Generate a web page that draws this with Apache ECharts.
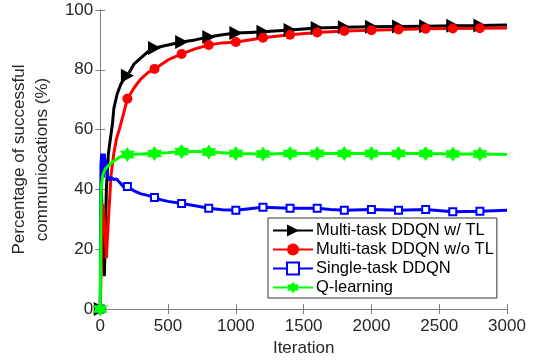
<!DOCTYPE html>
<html><head><meta charset="utf-8">
<script src="https://cdn.jsdelivr.net/npm/echarts@6/dist/echarts.min.js"></script>
<style>html,body{margin:0;padding:0;background:#fff}#c{width:535px;height:363px}</style>
</head><body><div id="c"></div>
<script>
var seriesNames = ['Multi-task DDQN w/ TL','Multi-task DDQN w/o TL','Single-task DDQN','Q-learning'];
var xTicks = [0,500,1000,1500,2000,2500,3000];
var yTicks = [0,20,40,60,80,100];
var markerIters = [0,200,400,600,800,1000,1200,1400,1600,1800,2000,2200,2400,2600,2800];

var wtlIter = [0,8,15,30,45,60,75,90,100,125,150,175,200,250,300,350,400,450,500,600,700,800,900,1000,1100,1200,1400,1600,1800,2000,2200,2400,2600,2800,3000];
var wtlVal  = [0,40,30,11,40,52,57,62,67,72,75,77,78,82,84,86,87.3,87.8,88.3,89.3,90,91,91.7,92.3,92.5,92.7,93.3,94,94.2,94.4,94.5,94.6,94.7,94.8,95];

var wotlIter = [0,10,20,30,45,60,80,100,120,140,170,200,250,300,350,400,500,600,700,800,900,1000,1100,1200,1400,1600,1800,2000,2200,2400,2600,2800,3000];
var wotlVal  = [0,20,35,30,17,30,45,52,57,60,65,70.3,74,77,79,80.3,83.3,85.3,87,88.3,89,89.3,90,90.7,91.7,92.5,93,93.2,93.5,93.7,93.8,93.9,94];

var stIter = [0,5,10,15,20,25,30,35,40,50,60,70,80,100,120,140,160,180,200,250,300,350,400,450,500,600,700,800,900,1000,1100,1200,1400,1600,1700,1800,2000,2200,2400,2600,2800,3000];
var stVal  = [0,48,52,45,50,44,52,46,50,45,44,43,44,43.3,43.5,42.5,41.5,40.5,41,39.5,38.5,38,37.3,36.5,36,35.3,34.5,33.7,33.2,33,33.5,34,33.7,33.7,33.3,33,33.3,33,33.3,32.5,32.7,33];

var qlIter = [0,3,6,10,20,40,60,100,150,200,300,400,500,600,700,800,1000,1200,1400,1600,1800,2000,2200,2400,2600,2800,3000];
var qlVal  = [0,20,38,42,45,47,48,49.5,51,51.7,51.8,52,52.3,52.7,52.7,52.5,52,51.8,52,52,52,52,52,52,51.8,51.8,51.7];

function build(iters, vals){
  return iters.map(function(x,i){
    if (markerIters.indexOf(x) >= 0) return [x, vals[i]];
    return {value:[x, vals[i]], symbol:'none'};
  });
}

var triRight = 'path://M0,0 L10,5 L0,10 Z';
var hexagram = 'path://M5,0 L6.443,2.5 L9.33,2.5 L7.887,5 L9.33,7.5 L6.443,7.5 L5,10 L3.557,7.5 L0.67,7.5 L2.113,5 L0.67,2.5 L3.557,2.5 Z';

var axisGray = '#808080';
var txt = '#262626';
var font = 'Liberation Sans, Arial, sans-serif';
function plain(v){ return String(v); }

var chart = echarts.init(document.getElementById('c'), null, {renderer:'canvas'});
chart.setOption({
  animation:false,
  backgroundColor:'#fff',
  grid:{left:98,right:28,top:10,bottom:54,show:false},
  legend:{
    orient:'vertical', left:268, top:218,
    backgroundColor:'#fff', borderColor:'#333', borderWidth:1,
    padding:[3,3,1,4], itemWidth:40, itemHeight:15, itemGap:0,
    textStyle:{fontFamily:font, fontSize:16.5, color:'#000', lineHeight:19, padding:[0,0,0,-2]},
    data:seriesNames
  },
  xAxis:[{
    type:'value', min:0, max:3000, interval:500,
    name:'Iteration', nameLocation:'middle', nameGap:31,
    nameTextStyle:{fontFamily:font, fontSize:17, color:txt},
    axisLine:{lineStyle:{color:axisGray,width:1}},
    axisTick:{inside:true,length:5,lineStyle:{color:axisGray}},
    axisLabel:{fontFamily:font, fontSize:17, color:txt, margin:9, formatter:plain},
    splitLine:{show:false}
  },{
    type:'value', min:0, max:3000, interval:500, position:'top',
    axisLine:{lineStyle:{color:axisGray,width:1}},
    axisTick:{inside:true,length:5,lineStyle:{color:axisGray}},
    axisLabel:{show:false}, splitLine:{show:false}
  }],
  yAxis:[{
    type:'value', min:0, max:100, interval:20,
    name:'Percentage of successful\ncommuniocations (%)', nameLocation:'middle', nameGap:36, nameRotate:90,
    nameTextStyle:{fontFamily:font, fontSize:17, color:txt, lineHeight:23},
    axisLine:{show:true,lineStyle:{color:axisGray,width:1}},
    axisTick:{show:true,inside:true,length:5,lineStyle:{color:axisGray}},
    axisLabel:{fontFamily:font, fontSize:17, color:txt, margin:7, formatter:plain},
    splitLine:{show:false}
  },{
    type:'value', min:0, max:100, interval:20, position:'right',
    axisLine:{show:true,lineStyle:{color:axisGray,width:1}},
    axisTick:{show:true,inside:true,length:5,lineStyle:{color:axisGray}},
    axisLabel:{show:false}, splitLine:{show:false}
  }],
  series:[{
    name:seriesNames[0], type:'line', data:build(wtlIter,wtlVal),
    symbol:triRight, symbolSize:[13,14], symbolKeepAspect:false, showAllSymbol:true,
    lineStyle:{color:'#000',width:3}, itemStyle:{color:'#000'}
  },{
    name:seriesNames[1], type:'line', data:build(wotlIter,wotlVal),
    symbol:'circle', symbolSize:10, showAllSymbol:true,
    lineStyle:{color:'#ff0000',width:3}, itemStyle:{color:'#ff0000'}
  },{
    name:seriesNames[2], type:'line', data:build(stIter,stVal),
    symbol:'emptyRect', symbolSize:7, showAllSymbol:true,
    lineStyle:{color:'#0000ff',width:3}, itemStyle:{color:'#0000ff',borderWidth:2}
  },{
    name:seriesNames[3], type:'line', data:build(qlIter,qlVal),
    symbol:hexagram, symbolSize:15, showAllSymbol:true,
    lineStyle:{color:'#00ff00',width:3}, itemStyle:{color:'#00ff00'}
  }]
});
</script></body></html>
